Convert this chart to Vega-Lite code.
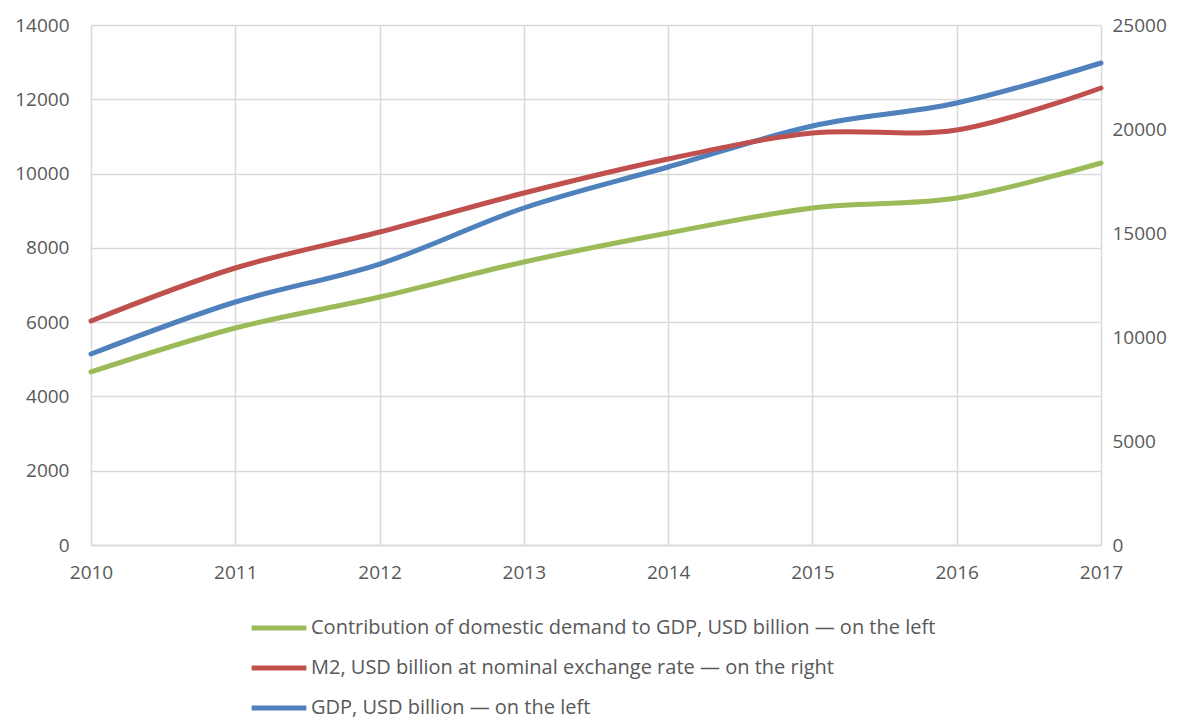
{
  "$schema": "https://vega.github.io/schema/vega-lite/v6.json",
  "autosize": "none",
  "width": 1010,
  "height": 520,
  "padding": {"left": 91, "top": 25, "right": 83, "bottom": 177},
  "background": "white",
  "config": {
    "font": "Open Sans",
    "view": {"stroke": null},
    "axis": {"labelFont": "Open Sans", "labelFontSize": 19, "labelColor": "#595959", "ticks": false, "title": null, "gridColor": "#d9d9d9", "gridWidth": 1.5},
    "legend": {"labelFont": "Open Sans", "labelFontSize": 20, "labelColor": "#595959", "labelLimit": 0}
  },
  "data": {"values": [
    {"year": 2010, "series": "Contribution of domestic demand to GDP, USD billion — on the left", "value": 4658},
    {"year": 2011, "series": "Contribution of domestic demand to GDP, USD billion — on the left", "value": 5842},
    {"year": 2012, "series": "Contribution of domestic demand to GDP, USD billion — on the left", "value": 6677},
    {"year": 2013, "series": "Contribution of domestic demand to GDP, USD billion — on the left", "value": 7619},
    {"year": 2014, "series": "Contribution of domestic demand to GDP, USD billion — on the left", "value": 8400},
    {"year": 2015, "series": "Contribution of domestic demand to GDP, USD billion — on the left", "value": 9073},
    {"year": 2016, "series": "Contribution of domestic demand to GDP, USD billion — on the left", "value": 9342},
    {"year": 2017, "series": "Contribution of domestic demand to GDP, USD billion — on the left", "value": 10285},
    {"year": 2010, "series": "GDP, USD billion — on the left", "value": 5142},
    {"year": 2011, "series": "GDP, USD billion — on the left", "value": 6542},
    {"year": 2012, "series": "GDP, USD billion — on the left", "value": 7565},
    {"year": 2013, "series": "GDP, USD billion — on the left", "value": 9073},
    {"year": 2014, "series": "GDP, USD billion — on the left", "value": 10177},
    {"year": 2015, "series": "GDP, USD billion — on the left", "value": 11281},
    {"year": 2016, "series": "GDP, USD billion — on the left", "value": 11900},
    {"year": 2017, "series": "GDP, USD billion — on the left", "value": 12977},
    {"year": 2010, "series": "M2, USD billion at nominal exchange rate — on the right", "value": 10769},
    {"year": 2011, "series": "M2, USD billion at nominal exchange rate — on the right", "value": 13317},
    {"year": 2012, "series": "M2, USD billion at nominal exchange rate — on the right", "value": 15048},
    {"year": 2013, "series": "M2, USD billion at nominal exchange rate — on the right", "value": 16923},
    {"year": 2014, "series": "M2, USD billion at nominal exchange rate — on the right", "value": 18558},
    {"year": 2015, "series": "M2, USD billion at nominal exchange rate — on the right", "value": 19808},
    {"year": 2016, "series": "M2, USD billion at nominal exchange rate — on the right", "value": 19952},
    {"year": 2017, "series": "M2, USD billion at nominal exchange rate — on the right", "value": 21971}
  ]},
  "encoding": {
    "x": {"field": "year", "type": "quantitative",
      "scale": {"domain": [2010, 2017], "nice": false, "zero": false},
      "axis": {"values": [2010, 2011, 2012, 2013, 2014, 2015, 2016, 2017], "format": "d", "grid": true, "domainColor": "#d9d9d9", "domainWidth": 1.5, "labelPadding": 18, "labelFlush": false}},
    "color": {"field": "series", "type": "nominal",
      "scale": {"domain": ["Contribution of domestic demand to GDP, USD billion — on the left", "M2, USD billion at nominal exchange rate — on the right", "GDP, USD billion — on the left"],
                "range": ["#9bbb59", "#c0504d", "#4f81bd"]},
      "legend": {"title": null, "orient": "none", "legendX": 158, "legendY": 573, "direction": "vertical",
        "symbolType": "stroke", "symbolSize": 3000, "symbolStrokeWidth": 5, "rowPadding": -8, "labelOffset": 2}}
  },
  "layer": [
    {
      "transform": [{"filter": "datum.series !== 'M2, USD billion at nominal exchange rate — on the right'"}],
      "mark": {"type": "line", "interpolate": "catmull-rom", "strokeWidth": 5, "strokeCap": "round"},
      "encoding": {
        "y": {"field": "value", "type": "quantitative",
          "scale": {"domain": [0, 14000], "nice": false},
          "axis": {"orient": "left", "values": [0, 2000, 4000, 6000, 8000, 10000, 12000, 14000], "grid": true, "domain": false, "labelPadding": 22, "format": "d"}}
      }
    },
    {
      "transform": [{"filter": "datum.series === 'M2, USD billion at nominal exchange rate — on the right'"}],
      "mark": {"type": "line", "interpolate": "catmull-rom", "strokeWidth": 5, "strokeCap": "round"},
      "encoding": {
        "y": {"field": "value", "type": "quantitative",
          "scale": {"domain": [0, 25000], "nice": false},
          "axis": {"orient": "right", "values": [0, 5000, 10000, 15000, 20000, 25000], "grid": false, "domain": false, "labelPadding": 11, "format": "d"}}
      }
    }
  ],
  "resolve": {"scale": {"y": "independent", "color": "shared"}}
}
